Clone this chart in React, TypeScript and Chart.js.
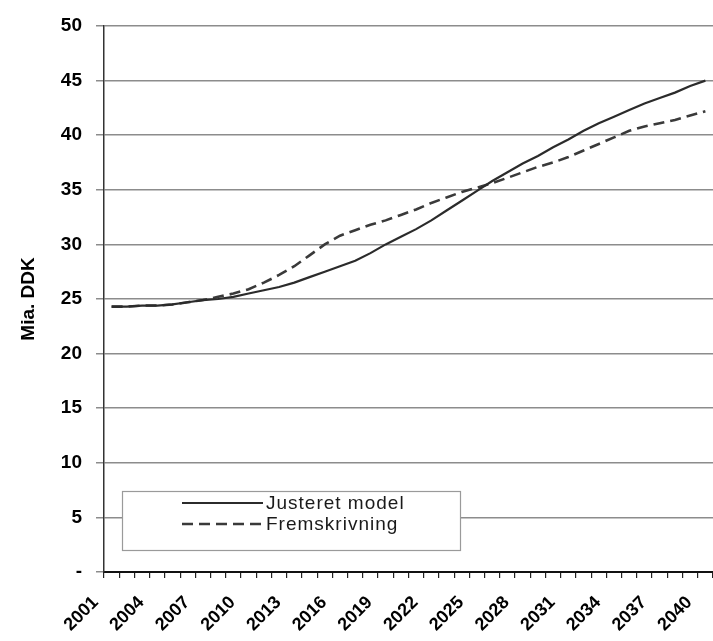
import React, { useEffect, useRef } from "react";
import { Chart, registerables } from "chart.js";

Chart.register(...registerables);

const years: string[] = [];
for (let y = 2001; y <= 2040; y++) years.push(String(y));

const justeretModel = [
  24.3, 24.3, 24.4, 24.4, 24.5, 24.7, 24.9, 25.0, 25.2, 25.5,
  25.8, 26.1, 26.5, 27.0, 27.5, 28.0, 28.5, 29.2, 30.0, 30.7,
  31.4, 32.2, 33.1, 34.0, 34.9, 35.8, 36.6, 37.4, 38.1, 38.9,
  39.6, 40.4, 41.1, 41.7, 42.3, 42.9, 43.4, 43.9, 44.5, 45.0,
];

const fremskrivning = [
  24.3, 24.3, 24.4, 24.4, 24.5, 24.7, 24.9, 25.2, 25.5, 25.9,
  26.5, 27.2, 28.0, 29.0, 30.0, 30.8, 31.3, 31.8, 32.2, 32.7,
  33.2, 33.8, 34.3, 34.8, 35.2, 35.6, 36.1, 36.6, 37.1, 37.5,
  38.0, 38.6, 39.2, 39.8, 40.4, 40.8, 41.1, 41.4, 41.8, 42.2,
];

const seriesLabels = ["Justeret model", "Fremskrivning"];
const yTicks = [0, 5, 10, 15, 20, 25, 30, 35, 40, 45, 50];
const yTitle = "Mia. DDK";

const FONT = "'Liberation Sans', Arial, Helvetica, sans-serif";

const boxLegend = {
  id: "boxLegend",
  afterDatasetsDraw(chart: any) {
    const { ctx, chartArea } = chart;
    const x = chartArea.left + 18;
    const y = chartArea.top + 465;
    const w = 338;
    const h = 59;
    ctx.save();
    ctx.fillStyle = "#ffffff";
    ctx.fillRect(x, y, w, h);
    ctx.strokeStyle = "#9a9a9a";
    ctx.lineWidth = 1.2;
    ctx.strokeRect(x + 0.5, y + 0.5, w, h);
    const rows = [y + 12, y + 33];
    chart.data.datasets.forEach((ds: any, i: number) => {
      const ry = rows[i];
      ctx.beginPath();
      ctx.strokeStyle = ds.borderColor;
      ctx.lineWidth = ds.borderWidth;
      ctx.setLineDash(ds.borderDash || []);
      ctx.moveTo(x + 60, ry);
      ctx.lineTo(x + 141, ry);
      ctx.stroke();
      ctx.setLineDash([]);
      ctx.fillStyle = "#1a1a1a";
      ctx.font = `19px ${FONT}`;
      try {
        (ctx as any).letterSpacing = "1px";
      } catch (e) {}
      ctx.textBaseline = "middle";
      ctx.textAlign = "left";
      ctx.fillText(ds.label, x + 144, ry + 1);
      try {
        (ctx as any).letterSpacing = "0px";
      } catch (e) {}
    });
    ctx.restore();
  },
};

export default function App() {
  const ref = useRef<HTMLCanvasElement | null>(null);

  useEffect(() => {
    document.body.style.margin = "0";
    const canvas = ref.current;
    if (!canvas) return;
    const chart = new Chart(canvas, {
      type: "line",
      data: {
        labels: years,
        datasets: [
          {
            label: seriesLabels[0],
            data: justeretModel,
            borderColor: "#2b2b2b",
            borderWidth: 2.2,
            pointRadius: 0,
            tension: 0,
            fill: false,
          },
          {
            label: seriesLabels[1],
            data: fremskrivning,
            borderColor: "#3a3a3a",
            borderWidth: 2.6,
            borderDash: [11, 6],
            pointRadius: 0,
            tension: 0,
            fill: false,
          },
        ],
      },
      options: {
        responsive: false,
        animation: false,
        layout: { padding: { top: 26, right: -3, left: 0, bottom: 0 } },
        plugins: {
          legend: { display: false },
          tooltip: { enabled: false },
        },
        scales: {
          x: {
            type: "category",
            offset: true,
            grid: {
              offset: true,
              drawOnChartArea: false,
              drawTicks: true,
              tickLength: 6,
              color: "#222",
              lineWidth: 1.2,
            },
            border: { color: "#111", width: 2 },
            ticks: {
              autoSkip: false,
              maxRotation: 45,
              minRotation: 45,
              padding: 14,
              labelOffset: -16,
              color: "#000",
              font: { family: FONT, weight: "bold", size: 18 },
              callback: function (this: any, v: any, i: number) {
                return i % 3 === 0 ? this.getLabelForValue(v) : "";
              },
            },
            afterFit(scale: any) {
              scale.height = 69;
              scale.paddingLeft = 0;
              scale.paddingRight = 0;
            },
          },
          y: {
            min: 0,
            max: 50,
            afterBuildTicks(scale: any) {
              scale.ticks = yTicks.map((v) => ({ value: v }));
            },
            grid: {
              color: "#8c8c8c",
              lineWidth: 1.5,
              tickLength: 8,
            },
            border: { color: "#333", width: 1.5 },
            ticks: {
              padding: 14,
              color: "#000",
              font: { family: FONT, weight: "bold", size: 19 },
              callback: (v: any) => (Number(v) === 0 ? "-" : String(v)),
            },
            title: {
              display: true,
              text: yTitle,
              color: "#000",
              font: { family: FONT, weight: "bold", size: 19 },
              padding: { top: 17, bottom: 0 },
            },
            afterFit(scale: any) {
              scale.width = 104;
            },
          },
        },
      },
      plugins: [boxLegend],
    });
    return () => chart.destroy();
  }, []);

  return (
    <div style={{ position: "absolute", left: 0, top: 0, width: 713, height: 641, background: "#fff", overflow: "hidden" }}>
      <canvas ref={ref} width={713} height={641} />
    </div>
  );
}
